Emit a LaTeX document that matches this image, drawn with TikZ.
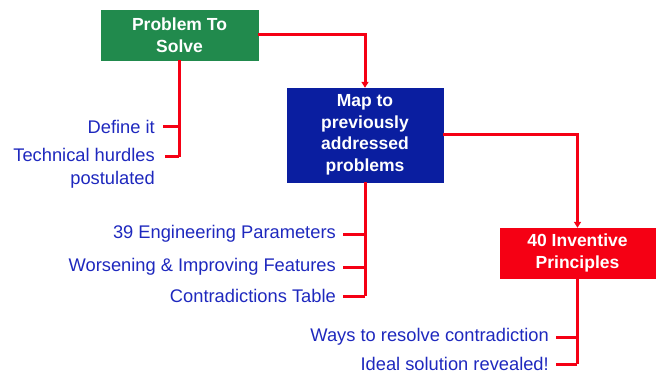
\documentclass[tikz,border=0pt]{standalone}
\usepackage{fontspec}
\setmainfont{Liberation Sans}
\usepackage{tikz}
\usetikzlibrary{arrows.meta}
\definecolor{boxgreen}{RGB}{33,138,77}
\definecolor{boxblue}{RGB}{10,30,160}
\definecolor{linkred}{RGB}{245,0,20}
\definecolor{itemblue}{RGB}{30,40,190}

\begin{document}
\begin{tikzpicture}
      [x=1pt,y=-1pt,
       main node/.style={rectangle,draw=#1,fill=#1,text=white,align=center,font=\fontsize{17.5}{21.5}\selectfont\bfseries,inner sep=0pt},
       item/.style={anchor=east,align=right,text=itemblue,font=\fontsize{18.3}{23}\selectfont,inner sep=0pt},
       link/.style={draw=linkred,line width=3pt},
       arrow/.style={link,-{Triangle[length=6pt,width=7pt]}}]
        \useasboundingbox (0,0) rectangle (658,374);
        \node[main node=boxgreen,minimum width=157pt,minimum height=50pt] (problem) at (179.5,35) {Problem To\\Solve};
        \node[main node=boxblue,minimum width=156pt,minimum height=94pt] (map) at (365,135) {Map to\\previously\\addressed\\problems};
        \node[main node=linkred,minimum width=155pt,minimum height=50pt] (principles) at (577.5,253) {40 Inventive\\Principles};

        \node[item] (define) at (155,127) {Define it};
        \node[item] (hurdles) at (155,168.5) {Technical hurdles\\postulated};
        \node[item] (params) at (336,234) {39 Engineering Parameters};
        \node[item] (features) at (336,267) {Worsening \& Improving Features};
        \node[item] (table) at (336,296) {Contradictions Table};
        \node[item] (ways) at (549,337) {Ways to resolve contradiction};
        \node[item] (ideal) at (549,364) {Ideal solution revealed!};

        \coordinate (t1) at (179,157);
        \coordinate (t2) at (365,296);
        \coordinate (t3) at (577,364);

        \draw[arrow] (problem.east) -| (map.north);
        \draw[arrow] (map.east) -| (principles.north);

        \draw[link] (problem.south -| t1) -- (t1);
        \draw[link] (define.east) ++(8,0) -- (define.east -| t1);
        \draw[link] (165,157) -- (t1);
        \draw[link] (map.south -| t2) -- (t2);
        \draw[link] (params.east) ++(7,0) -- (params.east -| t2);
        \draw[link] (features.east) ++(7,0) -- (features.east -| t2);
        \draw[link] (table.east) ++(7,0) -- (t2);
        \draw[link] (principles.south -| t3) -- (t3);
        \draw[link] (ways.east) ++(7,0) -- (ways.east -| t3);
        \draw[link] (ideal.east) ++(7,0) -- (t3);

      \end{tikzpicture}
\end{document}
